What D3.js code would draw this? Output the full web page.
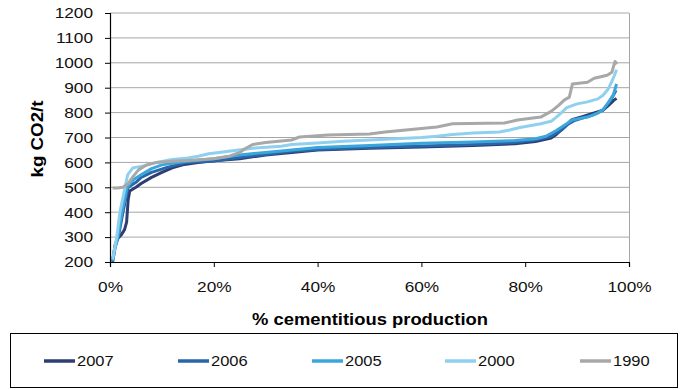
<!DOCTYPE html>
<html><head><meta charset="utf-8">
<script src="https://cdn.jsdelivr.net/npm/d3@7"></script>
<style>
html,body{margin:0;padding:0;background:#fff;}
svg{display:block;font-family:"Liberation Sans",Arial,sans-serif;}
</style></head>
<body><svg id="c" width="682" height="390"></svg>
<script>
const seriesNames = ["2007","2006","2005","2000","1990"];
const seriesColors = ["#2e3e72","#2766a9","#3ba6dc","#8fd0ef","#a8a8a8"];
const yTicks = [200,300,400,500,600,700,800,900,1000,1100,1200];
const xTicks = [0,20,40,60,80,100];
const xTickLabels = ["0%","20%","40%","60%","80%","100%"];

const s2007 = [[0.5,205],[1,270],[1.5,295],[2.2,310],[2.8,330],[3.2,360],[3.5,450],[3.8,485],[5,500],[6,515],[8,540],[10,560],[12,578],[14,590],[17,600],[20,607],[25,615],[30,630],[35,640],[40,650],[50,657],[60,662],[70,668],[78,675],[82,684],[85,698],[86,712],[88,750],[89,772],[91,784],[93,797],[95,810],[96,828],[97,848],[97.6,857]];
const s2006 = [[0.5,200],[1,260],[1.6,300],[2.5,400],[3.5,500],[5,520],[6,540],[8,560],[11,580],[15,600],[20,606],[25,620],[30,632],[35,645],[40,652],[50,660],[60,666],[70,672],[78,680],[82,690],[85,705],[87,730],[88,750],[89.5,768],[91,778],[93,790],[95,810],[96.5,850],[97.5,890]];
const s2005 = [[0.5,205],[1,260],[1.5,300],[2.3,400],[3.3,500],[4.5,530],[6,550],[8,575],[10,590],[13,600],[15,605],[20,615],[25,630],[30,640],[35,650],[40,660],[50,668],[60,677],[70,682],[78,688],[82,695],[84,705],[86,728],[88,755],[89,770],[92,782],[94,798],[95,812],[96,840],[97,872],[97.6,915]];
const s2000 = [[0.5,210],[1.3,300],[1.9,400],[2.9,500],[3.4,550],[4.4,578],[7,588],[9,600],[12,612],[15,618],[17,625],[19,635],[21,640],[24,648],[28,658],[33,665],[35,672],[40,678],[45,685],[50,690],[55,695],[60,700],[63,705],[66,712],[70,718],[75,722],[77,730],[79,740],[83,755],[85,765],[86,782],[87,800],[88,820],[90,835],[92,843],[94,855],[95,870],[96,895],[96.8,930],[97.2,950],[97.6,972]];
const s1990 = [[0.5,497],[1.5,497],[2.5,500],[3.5,515],[4.5,545],[5.5,570],[7,590],[9,600],[12,605],[15,608],[20,615],[23,625],[25,640],[26,655],[27.5,672],[30,680],[35,690],[36.5,702],[42,710],[50,714],[53,722],[57,730],[63,742],[66,755],[76,758],[78.5,770],[83,782],[85,805],[86.5,830],[87.5,850],[88.5,862],[89.1,915],[92,922],[93.3,938],[95.8,950],[96.7,962],[97.3,1005],[97.7,995]];
const seriesData = [s2007,s2006,s2005,s2000,s1990];

function stretch(sel, factor){
  sel.each(function(){
    const w = this.getComputedTextLength();
    d3.select(this).attr("textLength", w*factor).attr("lengthAdjust","spacingAndGlyphs");
  });
}

const svg = d3.select("#c");
const L=110, R=629, T=13, B=262;
const x = d3.scaleLinear().domain([0,100]).range([L,R]);
const y = d3.scaleLinear().domain([200,1200]).range([B,T]);

// gridlines
svg.append("g").selectAll("line").data(yTicks.slice(1)).join("line")
  .attr("x1",L).attr("x2",R).attr("y1",d=>y(d)).attr("y2",d=>y(d))
  .attr("stroke","#a6a6a6").attr("stroke-width",1);
// right border
svg.append("line").attr("x1",R+0.5).attr("x2",R+0.5).attr("y1",T).attr("y2",B)
  .attr("stroke","#a6a6a6");

// series
const line = d3.line().x(d=>x(d[0])).y(d=>y(d[1])).curve(d3.curveLinear);
svg.append("g").selectAll("path").data(seriesData).join("path")
  .attr("d",line).attr("fill","none")
  .attr("stroke",(d,i)=>seriesColors[i]).attr("stroke-width",3)
  .attr("stroke-linejoin","round");

// axes
const yAxis = svg.append("g").attr("transform",`translate(${L},0)`)
  .call(d3.axisLeft(y).tickValues(yTicks).tickSize(5).tickPadding(12).tickFormat(d3.format("d")));
const xAxis = svg.append("g").attr("transform",`translate(0,${B})`)
  .call(d3.axisBottom(x).tickValues(xTicks).tickSize(5).tickPadding(14).tickFormat((d,i)=>xTickLabels[i]));
[yAxis,xAxis].forEach(a=>{
  a.select(".domain").attr("stroke","#000").attr("stroke-width",1.2);
  a.selectAll(".tick line").attr("stroke","#000");
  a.selectAll("text").attr("font-size",15).attr("fill","#111").attr("font-family","Liberation Sans, Arial, sans-serif");
  stretch(a.selectAll("text"),1.15);
});

// titles
const yt = svg.append("text").attr("transform","translate(43,139) rotate(-90)")
  .attr("text-anchor","middle").attr("font-size",16).attr("font-weight","bold").text("kg CO2/t");
yt.attr("textLength",77).attr("lengthAdjust","spacingAndGlyphs");
const xt = svg.append("text").attr("x",370).attr("y",325)
  .attr("text-anchor","middle").attr("font-size",16).attr("font-weight","bold").text("% cementitious production");
xt.attr("textLength",236).attr("lengthAdjust","spacingAndGlyphs");

// legend
svg.append("rect").attr("x",10.5).attr("y",333.5).attr("width",667).attr("height",54)
  .attr("fill","none").attr("stroke","#000").attr("stroke-width",1);
const lx = [44,178,312,445,580];
const lg = svg.append("g").selectAll("g").data(seriesNames).join("g")
  .attr("transform",(d,i)=>`translate(${lx[i]},361)`);
lg.append("line").attr("x1",0).attr("x2",31).attr("y1",0).attr("y2",0)
  .attr("stroke",(d,i)=>seriesColors[i]).attr("stroke-width",3.5);
const lt = lg.append("text").attr("x",33).attr("y",5).attr("font-size",15).attr("fill","#111").text(d=>d);
stretch(lt,1.1);
</script></body></html>
